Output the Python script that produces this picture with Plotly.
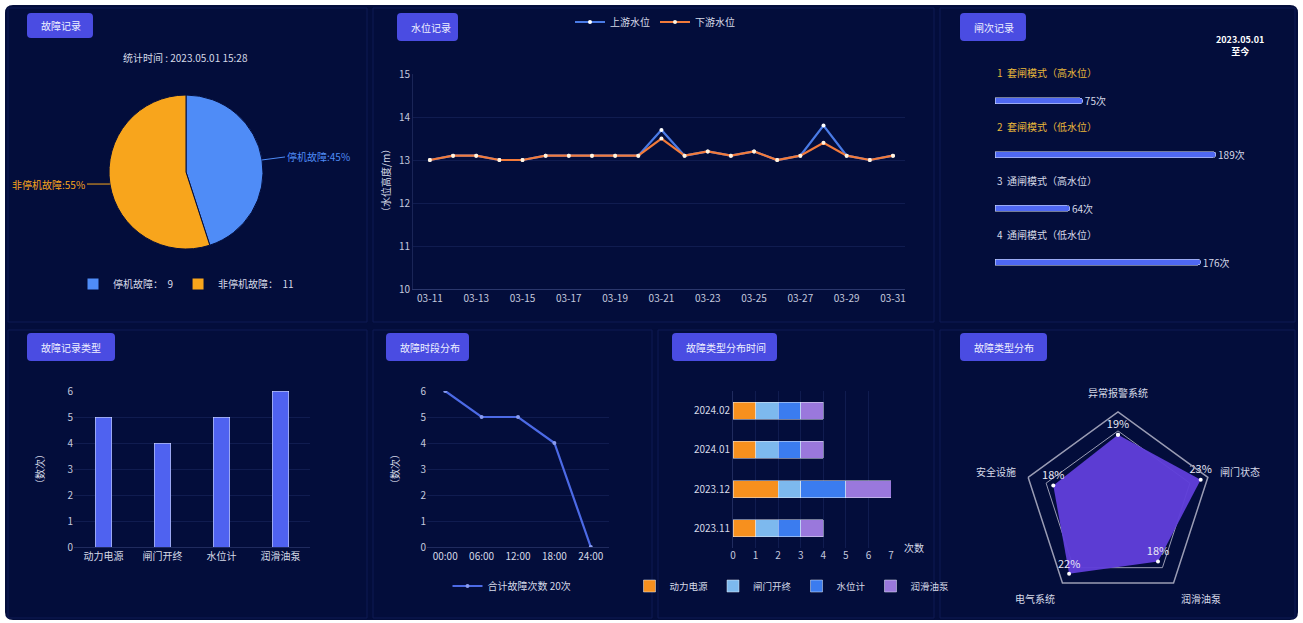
import math
import plotly.graph_objects as go

W, H = 1303, 623
FONT = "Noto Sans CJK SC"
TICK = "#c3c9de"
LABEL = "#d6dae8"
GRID = "rgba(90,110,190,0.16)"

# ---------------- data ----------------
pie_names = ["停机故障", "非停机故障"]
pie_values = [9, 11]
pie_colors = ["#4f8cf7", "#f8a51c"]

dates = ["03-11", "03-12", "03-13", "03-14", "03-15", "03-16", "03-17", "03-18", "03-19", "03-20",
         "03-21", "03-22", "03-23", "03-24", "03-25", "03-26", "03-27", "03-28", "03-29", "03-30", "03-31"]
upstream = [13.0, 13.1, 13.1, 13.0, 13.0, 13.1, 13.1, 13.1, 13.1, 13.1,
            13.7, 13.1, 13.2, 13.1, 13.2, 13.0, 13.1, 13.8, 13.1, 13.0, 13.1]
downstream = [13.0, 13.1, 13.1, 13.0, 13.0, 13.1, 13.1, 13.1, 13.1, 13.1,
              13.5, 13.1, 13.2, 13.1, 13.2, 13.0, 13.1, 13.4, 13.1, 13.0, 13.1]
date_ticks = dates[::2]

gate_modes = ["1  套闸模式（高水位）", "2  套闸模式（低水位）", "3  通闸模式（高水位）", "4  通闸模式（低水位）"]
gate_counts = [75, 189, 64, 176]

fault_types = ["动力电源", "闸门开终", "水位计", "润滑油泵"]
fault_counts = [5, 4, 5, 6]

time_slots = ["00:00", "06:00", "12:00", "18:00", "24:00"]
time_counts = [6, 5, 5, 4, 0]

months = ["2023.11", "2023.12", "2024.01", "2024.02"]
stack_series = {
    "动力电源": [1, 2, 1, 1],
    "闸门开终": [1, 1, 1, 1],
    "水位计": [1, 2, 1, 1],
    "润滑油泵": [1, 2, 1, 1],
}
stack_colors = ["#f7901e", "#7db9ee", "#3b7cef", "#9a78dc"]

radar_cats = ["异常报警系统", "闸门状态", "润滑油泵", "电气系统", "安全设施"]
radar_vals = [19, 23, 18, 22, 18]


# ---------------- helpers ----------------
def dx(a, b):
    return [a / W, b / W]


def dy(top, bottom):
    return [1 - bottom / H, 1 - top / H]


def px(x):
    return x / W


def py(y):
    return 1 - y / H


def rrect(x0, y0, x1, y1, r):
    P = lambda x, y: f"{px(x):.5f},{py(y):.5f}"
    return (f"M{P(x0 + r, y0)} L{P(x1 - r, y0)} Q{P(x1, y0)} {P(x1, y0 + r)} "
            f"L{P(x1, y1 - r)} Q{P(x1, y1)} {P(x1 - r, y1)} L{P(x0 + r, y1)} "
            f"Q{P(x0, y1)} {P(x0, y1 - r)} L{P(x0, y0 + r)} Q{P(x0, y0)} {P(x0 + r, y0)} Z")


fig = go.Figure()

# ---- pie ----
PIE_CX, PIE_CY, PIE_R = 186, 172, 77
fig.add_trace(go.Pie(
    labels=[f"{n}：  {v}" for n, v in zip(pie_names, pie_values)],
    values=pie_values,
    sort=False, direction="clockwise", rotation=0,
    marker=dict(colors=pie_colors, line=dict(color="#030d3b", width=1)),
    textinfo="none",
    domain=dict(x=dx(PIE_CX - PIE_R, PIE_CX + PIE_R), y=dy(PIE_CY - PIE_R, PIE_CY + PIE_R)),
    legend="legend", showlegend=True, hoverinfo="skip",
))

# ---- water level lines ----
fig.add_trace(go.Scatter(
    x=dates, y=upstream, name="上游水位", mode="lines+markers",
    line=dict(color="#4a7be6", width=2.2),
    marker=dict(color="white", size=4),
    xaxis="x", yaxis="y", legend="legend2",
))
fig.add_trace(go.Scatter(
    x=dates, y=downstream, name="下游水位", mode="lines+markers",
    line=dict(color="#f27a3a", width=2.2),
    marker=dict(color="#fff3e0", size=4),
    xaxis="x", yaxis="y", legend="legend2",
))

# ---- gate ranking bars ----
fig.add_trace(go.Bar(
    x=gate_counts, y=gate_modes, orientation="h", width=0.11,
    marker=dict(color="#4f68f2", cornerradius=3),
    texttemplate=" %{x}次", textposition="outside", constraintext="none",
    textfont=dict(size=10, color=LABEL, family=FONT),
    cliponaxis=False, xaxis="x2", yaxis="y2", showlegend=False,
))

# ---- fault type bars ----
fig.add_trace(go.Bar(
    x=fault_types, y=fault_counts, width=0.28,
    marker=dict(color="#4f62f0"),
    xaxis="x3", yaxis="y3", showlegend=False,
))

# ---- fault time line ----
fig.add_trace(go.Scatter(
    x=time_slots, y=time_counts, mode="lines+markers",
    name=f"合计故障次数 {sum(time_counts)}次",
    line=dict(color="#4c6ae6", width=2.2),
    marker=dict(color="#8a9cf0", size=4),
    xaxis="x4", yaxis="y4", legend="legend3",
))

# ---- stacked month bars ----
for (name, vals), col in zip(stack_series.items(), stack_colors):
    fig.add_trace(go.Bar(
        x=vals, y=months, orientation="h", name=name, width=0.43,
        marker=dict(color=col), xaxis="x5", yaxis="y5", legend="legend4",
    ))

# ---- radar ----
fig.add_trace(go.Scatterpolar(
    r=radar_vals + radar_vals[:1], theta=radar_cats + radar_cats[:1],
    mode="markers+text", fill="toself",
    fillcolor="rgba(96,62,218,0.96)",
    line=dict(color="rgba(96,62,218,1)", width=1),
    marker=dict(color="white", size=4),
    text=[f"{v}%" for v in radar_vals] + [""], textposition="top center",
    textfont=dict(size=11, color="#e8e8f4", family=FONT),
    showlegend=False,
))

axis_common = dict(showgrid=True, gridcolor=GRID, zeroline=False, ticks="",
                   tickfont=dict(size=10, color=TICK, family=FONT))
leg_font = dict(size=10, color=LABEL, family=FONT)

fig.update_layout(
    width=W, height=H, margin=dict(l=0, r=0, t=0, b=0, autoexpand=False),
    paper_bgcolor="white", plot_bgcolor="rgba(0,0,0,0)",
    font=dict(family=FONT, color=TICK, size=10),
    barmode="stack",
    xaxis=dict(domain=dx(413, 905), anchor="y", type="category", range=[-0.73, 20.52],
               tickvals=date_ticks, showgrid=False, showline=True, linecolor="rgba(120,135,200,0.35)",
               ticks="", tickfont=dict(size=10, color=TICK, family=FONT)),
    yaxis=dict(domain=dy(74, 289), anchor="x", range=[10, 15], dtick=1, **axis_common,
               showline=True, linecolor="rgba(120,135,200,0.2)"),
    xaxis2=dict(domain=dx(995, 1252), anchor="y2", range=[0, 220], visible=False),
    yaxis2=dict(domain=dy(74, 289), anchor="x2", type="category", range=[3.5, -0.5], visible=False),
    xaxis3=dict(domain=dx(74, 310), anchor="y3", type="category", range=[-0.5, 3.5], showgrid=False,
                ticks="", showline=True, linecolor="rgba(120,135,200,0.25)",
                tickfont=dict(size=10, color=LABEL, family=FONT)),
    yaxis3=dict(domain=dy(391, 547), anchor="x3", range=[0, 6], dtick=1, **axis_common),
    xaxis4=dict(domain=dx(427, 609), anchor="y4", type="category", range=[-0.5, 4.5], showgrid=False,
                ticks="", showline=True, linecolor="rgba(120,135,200,0.25)",
                tickfont=dict(size=10, color=LABEL, family=FONT)),
    yaxis4=dict(domain=dy(391, 547), anchor="x4", range=[0, 6], dtick=1, **axis_common),
    xaxis5=dict(domain=dx(733, 891), anchor="y5", range=[0, 7], dtick=1, **axis_common),
    yaxis5=dict(domain=dy(391, 548), anchor="x5", type="category", range=[-0.5, 3.5], showgrid=False,
                ticks="", showline=True, linecolor="rgba(120,135,200,0.25)",
                tickfont=dict(size=10, color=LABEL, family=FONT)),
    polar=dict(
        domain=dict(x=dx(1023.5, 1212.5), y=dy(412, 601)),
        bgcolor="rgba(0,0,0,0)", gridshape="linear",
        angularaxis=dict(direction="clockwise", rotation=90, showgrid=False,
                         ticks="outside", ticklen=10, tickcolor="rgba(0,0,0,0)",
                         showline=True, linecolor="#9a9cb4", linewidth=1.5,
                         tickfont=dict(size=10, color=LABEL, family=FONT)),
        radialaxis=dict(range=[0, 25], tickvals=[20], showticklabels=False, ticks="",
                        showline=False, gridcolor="#9a9cb4", gridwidth=1.2),
    ),
    legend=dict(orientation="h", x=px(186), y=py(284), xanchor="center", yanchor="middle",
                bgcolor="rgba(0,0,0,0)", font=leg_font, traceorder="normal"),
    legend2=dict(orientation="h", x=px(655), y=py(22), xanchor="center", yanchor="middle",
                 bgcolor="rgba(0,0,0,0)", font=leg_font, traceorder="normal"),
    legend3=dict(orientation="h", x=px(512), y=py(586), xanchor="center", yanchor="middle",
                 bgcolor="rgba(0,0,0,0)", font=leg_font, traceorder="normal"),
    legend4=dict(orientation="h", x=px(792), y=py(586), xanchor="center", yanchor="middle",
                 bgcolor="rgba(0,0,0,0)", font=dict(size=9.5, color=LABEL, family=FONT),
                 traceorder="normal"),
)

shapes = []
shapes.append(dict(type="path", path=rrect(5, 5, 1298, 620, 8), xref="paper", yref="paper",
                   fillcolor="#030d3b", line=dict(width=0), layer="below"))
panels = [(8, 8, 367, 322), (373, 8, 934, 322), (940, 8, 1295, 322),
          (8, 330, 367, 618), (373, 330, 652, 618), (658, 330, 934, 618), (940, 330, 1295, 618)]
for x0, y0, x1, y1 in panels:
    shapes.append(dict(type="rect", xref="paper", yref="paper", x0=px(x0), x1=px(x1), y0=py(y1), y1=py(y0),
                       line=dict(color="#0f1b55", width=1), fillcolor="rgba(0,0,0,0)", layer="below"))

annotations = []
badges = [("故障记录", 27, 13, 93, 38), ("水位记录", 397, 13, 458, 41), ("闸次记录", 960, 13, 1026, 41),
          ("故障记录类型", 27, 333, 115, 361), ("故障时段分布", 386, 333, 469, 361),
          ("故障类型分布时间", 672, 333, 777, 361), ("故障类型分布", 960, 333, 1047, 361)]
for text, x0, y0, x1, y1 in badges:
    shapes.append(dict(type="path", path=rrect(x0, y0, x1, y1, 4), xref="paper", yref="paper",
                       fillcolor="#4a4ce2", line=dict(width=0), layer="below"))
    annotations.append(dict(text=text, x=px(x0 + 12), y=py((y0 + y1) / 2), xref="paper", yref="paper",
                            xanchor="left", yanchor="middle", showarrow=False,
                            font=dict(size=10, color="#eef0ff", family=FONT)))

# pie labels with leader lines, placed from the slice mid-angles
total = sum(pie_values)
cum = 0
for name, v, col in zip(pie_names, pie_values, pie_colors):
    ang = 2 * math.pi * (cum + v / 2) / total
    cum += v
    ex = PIE_CX + PIE_R * math.sin(ang)
    ey = PIE_CY - PIE_R * math.cos(ang)
    right = math.sin(ang) >= 0
    annotations.append(dict(
        text=f"{name}:{round(100 * v / total)}%", x=px(ex), y=py(ey), xref="paper", yref="paper",
        ax=23 if right else -23, ay=-3 if right else 0,
        xanchor="left" if right else "right", yanchor="middle",
        showarrow=True, arrowhead=0, arrowwidth=1, arrowcolor=col,
        font=dict(size=10, color=col, family=FONT)))

centered = dict(xref="paper", yref="paper", xanchor="center", yanchor="middle", showarrow=False)
annotations += [
    dict(text="统计时间 : 2023.05.01 15:28", x=px(186), y=py(58), font=dict(size=10, color=LABEL, family=FONT),
         **centered),
    dict(text="<b>2023.05.01<br>至今</b>", x=px(1240), y=py(45),
         font=dict(size=9, color="#ffffff", family=FONT), **centered),
    dict(text="（水位高度/m）", x=px(386), y=py(181), textangle=-90,
         font=dict(size=10, color=LABEL, family=FONT), **centered),
    dict(text="（数次）", x=px(40), y=py(469), textangle=-90,
         font=dict(size=10, color=LABEL, family=FONT), **centered),
    dict(text="（数次）", x=px(395), y=py(469), textangle=-90,
         font=dict(size=10, color=LABEL, family=FONT), **centered),
    dict(text="次数", x=px(914), y=py(547), font=dict(size=10, color=LABEL, family=FONT), **centered),
]
label_colors = ["#e8b83a", "#e8b83a", LABEL, LABEL]
for m, c in zip(gate_modes, label_colors):
    annotations.append(dict(text=m, x=0, y=m, xref="x2", yref="y2", xanchor="left", yanchor="middle",
                            yshift=28, showarrow=False, font=dict(size=10, color=c, family=FONT)))

fig.update_layout(shapes=shapes, annotations=annotations)
fig.write_html("out.html")
